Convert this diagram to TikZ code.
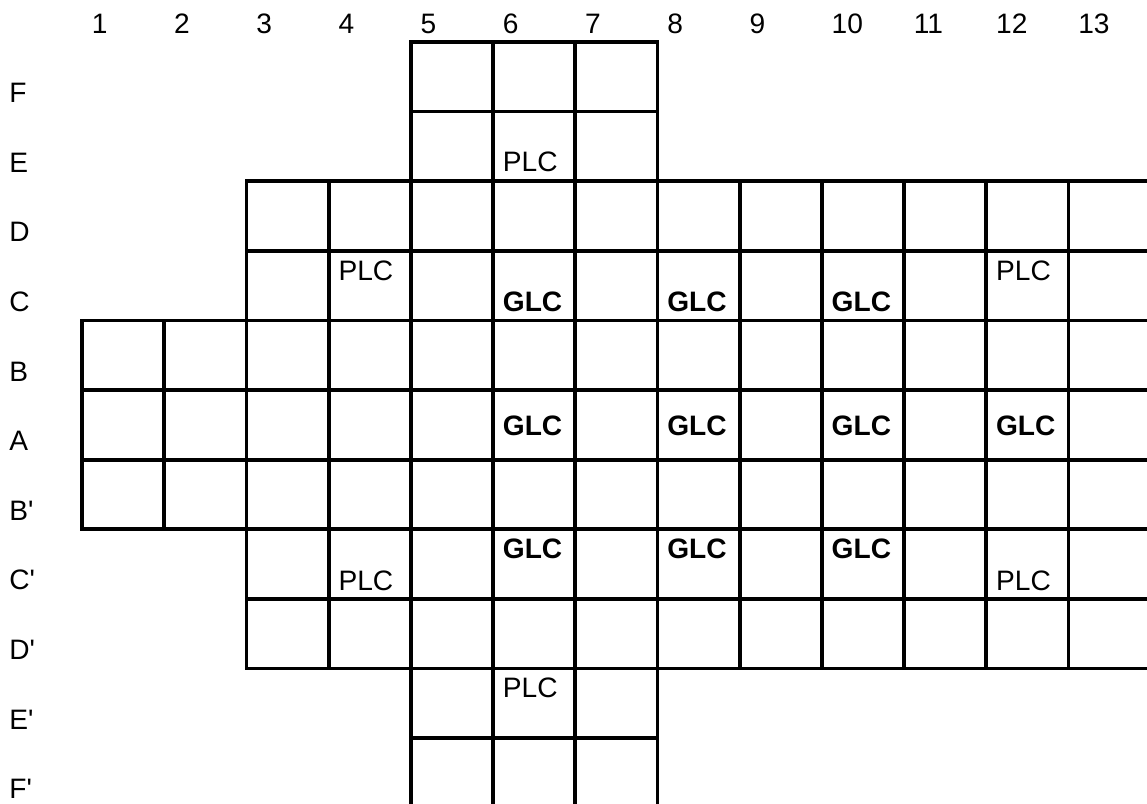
\documentclass[tikz,border=0pt]{standalone}
\usepackage{fontspec}
\setmainfont{Liberation Sans}

\begin{document}
\begin{tikzpicture}[x=1mm,y=1mm,
  font=\fontsize{8}{10}\selectfont,
  every node/.style={inner sep=0pt,anchor=base west},
  glc/.style={font=\fontsize{8}{10}\selectfont\bfseries},
  line width=.38mm,line cap=rect]
\path[use as bounding box] (0,-80.3) rectangle (114.7,0);
\clip (0,-80.3) rectangle (114.7,0);

% column numbers, row letters
\foreach \n in {1,...,13}
  \node (col\n) at ({8.2+8.22*(\n-1)+.8},-3.33) {\n};
\foreach \r [count=\i from 0] in {F,E,D,C,B,A,B\textquotesingle,C\textquotesingle,D\textquotesingle,E\textquotesingle,F\textquotesingle}
  \node (row\i) at (.75,{-4.2-6.96*\i-6.07}) {\r};

% horizontal lines
\foreach \j in {0,1,10}
  \draw (41.08,{-4.2-6.96*\j})--(65.74,{-4.2-6.96*\j});
\foreach \j in {2,3,8,9}
  \draw (24.64,{-4.2-6.96*\j})--(115.06,{-4.2-6.96*\j});
\foreach \j in {4,...,7}
  \draw (8.2,{-4.2-6.96*\j})--(115.06,{-4.2-6.96*\j});
% vertical lines
\foreach \k in {0,1}
  \draw ({8.2+8.22*\k},-32.04)--({8.2+8.22*\k},-52.92);
\foreach \k in {2,3,8,9,10,11,12,13}
  \draw ({8.2+8.22*\k},-18.12)--({8.2+8.22*\k},-66.84);
\foreach \k in {4,...,7}
  \draw ({8.2+8.22*\k},-4.2)--({8.2+8.22*\k},-81);

% PLC
\node (plcE6) at (50.10,-17.17) {PLC};
\node (plcC4) at (33.66,-28.01) {PLC};
\node (plcC12) at (99.42,-28.01) {PLC};
\node (plcCp4) at (33.66,-59.07) {PLC};
\node (plcCp12) at (99.42,-59.07) {PLC};
\node (plcEp6) at (50.10,-69.77) {PLC};

% GLC
\foreach \x/\c in {50.10/6,66.54/8,82.98/10}{
  \node[glc] (glcC\c) at (\x,-31.17) {GLC};
  \node[glc] (glcCp\c) at (\x,-55.83) {GLC};
}
\foreach \x/\c in {50.10/6,66.54/8,82.98/10,99.42/12}
  \node[glc] (glcA\c) at (\x,-43.5) {GLC};
\end{tikzpicture}
\end{document}
